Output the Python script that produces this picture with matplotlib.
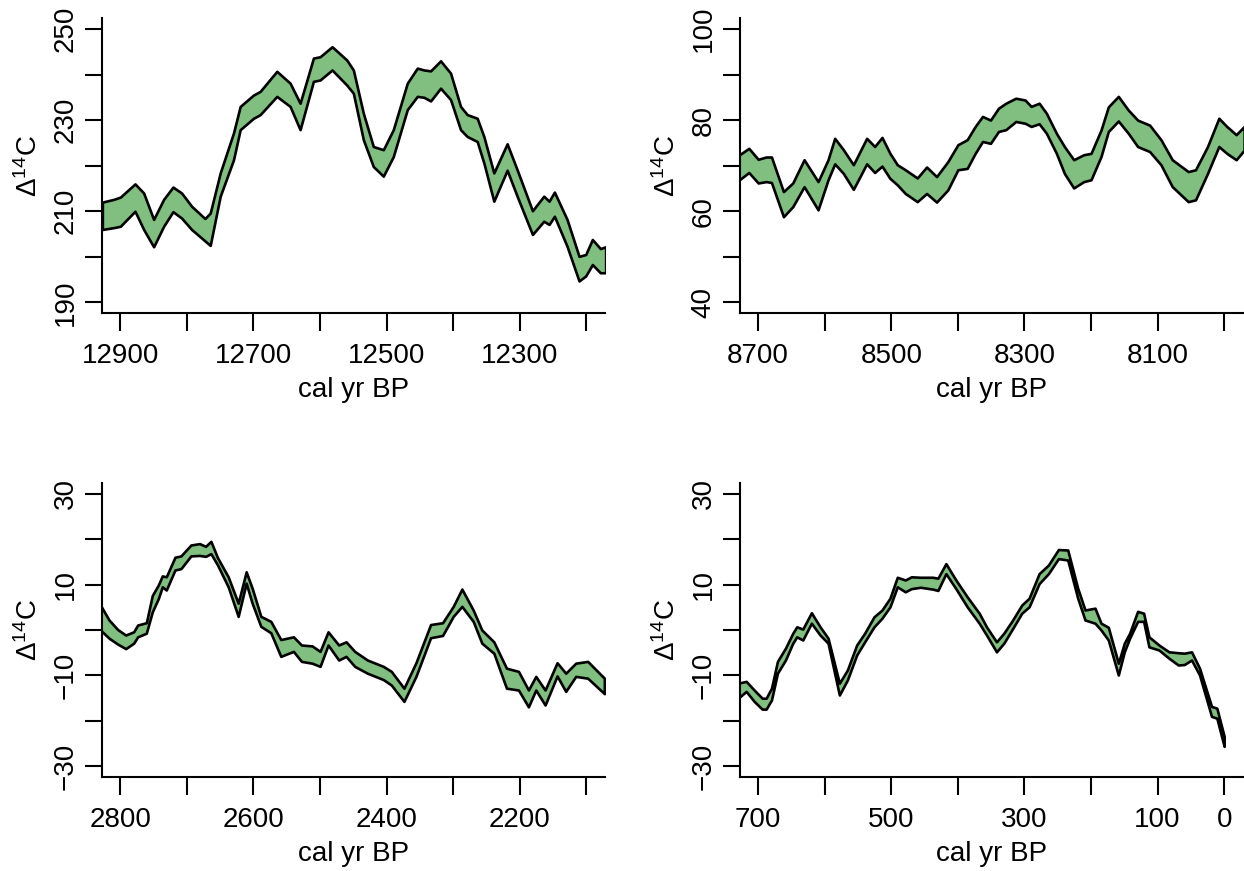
import matplotlib
matplotlib.use("Agg")
import matplotlib.pyplot as plt

plt.rcParams['font.family'] = ['Liberation Sans', 'DejaVu Sans']
plt.rcParams['font.size'] = 20

# dados (cal yr BP, limite superior e inferior do Delta14C)
p1_x = [12927, 12910, 12900, 12878, 12865, 12850, 12835, 12821, 12808, 12793,
        12773, 12765, 12750, 12730, 12720, 12700, 12690, 12665, 12645, 12630,
        12610, 12600, 12582, 12560, 12550, 12535, 12520, 12505, 12490, 12469,
        12454, 12444, 12434, 12419, 12404, 12389, 12379, 12364, 12354, 12339,
        12319, 12304, 12281, 12264, 12256, 12248, 12229, 12211, 12201, 12191,
        12179, 12171]
p1_upper = [212.0, 212.6, 213.1, 216.0, 214.0, 208.2, 212.6, 215.3, 214.0, 211.1,
            208.4, 209.6, 218.4, 227.2, 233.0, 235.5, 236.3, 240.7, 238.1, 233.7,
            243.6, 243.9, 246.1, 243.2, 241.0, 231.5, 224.2, 223.5, 227.9, 238.1,
            241.4, 241.0, 240.8, 243.0, 240.3, 233.0, 231.2, 230.4, 226.4, 218.4,
            224.8, 219.1, 210.1, 213.3, 212.2, 214.2, 208.2, 200.1, 200.5, 203.8,
            201.8, 202.2]
p1_lower = [206.0, 206.4, 206.7, 210.0, 206.0, 202.2, 206.7, 209.9, 208.5, 206.0,
            203.5, 202.5, 213.3, 221.3, 227.9, 230.4, 231.2, 235.2, 233.0, 227.9,
            238.5, 238.8, 241.0, 237.7, 235.9, 225.7, 219.8, 217.7, 222.0, 232.3,
            235.2, 235.0, 234.2, 237.0, 234.5, 227.9, 226.4, 225.3, 220.6, 212.2,
            219.0, 213.3, 204.9, 207.8, 207.1, 208.9, 202.3, 194.7, 195.8, 198.3,
            196.5, 196.5]

p2_x = [8730, 8714, 8700, 8688, 8680, 8662, 8648, 8631, 8610, 8595,
        8585, 8572, 8557, 8537, 8525, 8514, 8502, 8491, 8479, 8461,
        8447, 8432, 8415, 8400, 8386, 8374, 8363, 8351, 8339, 8328,
        8313, 8299, 8290, 8278, 8267, 8252, 8240, 8226, 8211, 8200,
        8185, 8174, 8159, 8144, 8130, 8112, 8095, 8078, 8054, 8043,
        8025, 8008, 7996, 7982, 7970]
p2_upper = [72.2, 73.8, 71.4, 71.9, 71.9, 64.3, 66.2, 71.3, 66.5, 71.3,
            76.0, 73.5, 70.2, 76.0, 74.2, 76.2, 72.7, 70.2, 69.1, 67.3,
            69.7, 67.6, 70.9, 74.6, 75.7, 78.6, 80.8, 80.0, 82.6, 83.7,
            84.8, 84.4, 83.0, 83.7, 81.5, 77.1, 74.2, 71.3, 72.4, 72.7,
            77.8, 82.9, 85.2, 82.2, 80.0, 78.9, 75.7, 71.3, 68.7, 69.1,
            74.2, 80.4, 78.6, 76.8, 78.6]
p2_lower = [66.7, 68.5, 66.2, 66.5, 66.3, 58.8, 61.0, 65.4, 60.3, 66.9,
            70.4, 68.3, 64.8, 70.4, 68.5, 69.9, 67.2, 65.8, 63.9, 62.1,
            63.9, 62.0, 64.7, 69.1, 69.4, 72.7, 75.3, 74.9, 77.5, 77.9,
            79.7, 79.3, 78.6, 79.2, 77.1, 72.7, 68.3, 65.1, 66.5, 66.9,
            72.0, 77.5, 79.8, 77.1, 74.2, 73.1, 70.2, 65.4, 62.1, 62.5,
            68.3, 74.2, 72.7, 71.3, 73.4]

p3_x = [2830, 2817, 2804, 2792, 2780, 2774, 2761, 2752, 2743, 2737,
        2731, 2718, 2709, 2694, 2681, 2672, 2664, 2654, 2638, 2623,
        2611, 2602, 2589, 2574, 2559, 2540, 2528, 2512, 2500, 2488,
        2472, 2461, 2448, 2429, 2405, 2393, 2374, 2356, 2334, 2316,
        2300, 2287, 2270, 2257, 2239, 2220, 2202, 2187, 2176, 2162,
        2144, 2131, 2116, 2098, 2073]
p3_upper = [5.5, 2.2, 0.1, -1.1, -0.4, 1.1, 1.6, 7.6, 9.9, 11.9,
            11.7, 16.0, 16.3, 18.7, 19.0, 18.4, 19.5, 15.9, 11.7, 5.9,
            12.8, 9.2, 3.0, 1.9, -2.1, -1.5, -3.3, -3.5, -4.7, -0.4,
            -3.3, -2.6, -4.7, -6.6, -8.0, -9.1, -12.8, -7.2, 1.2, 1.6,
            5.2, 9.0, 4.4, 0.0, -2.6, -8.4, -9.1, -13.2, -10.2, -13.2,
            -7.2, -9.5, -7.3, -6.9, -10.6]
p3_lower = [0.0, -1.8, -3.1, -4.1, -2.9, -1.5, -0.7, 4.0, 6.9, 9.5,
            8.8, 13.2, 13.5, 16.3, 16.4, 16.2, 16.8, 14.3, 9.5, 3.0,
            10.3, 5.9, 0.8, -0.6, -5.8, -4.7, -6.9, -7.3, -8.0, -3.3,
            -6.6, -5.8, -8.0, -9.5, -10.9, -12.1, -15.7, -10.2, -1.7, -1.2,
            3.0, 5.2, 1.9, -2.9, -5.1, -12.8, -13.2, -16.9, -13.2, -16.5,
            -10.1, -13.5, -10.2, -10.6, -14.0]

p4_x = [730, 718, 706, 694, 688, 680, 671, 659, 648, 642,
        633, 620, 607, 595, 578, 566, 552, 540, 526, 514,
        502, 491, 479, 470, 456, 438, 430, 418, 403, 386,
        368, 357, 342, 331, 319, 304, 293, 278, 264, 249,
        235, 220, 209, 194, 185, 174, 159, 150, 142, 130,
        121, 113, 98, 83, 69, 60, 49, 37, 19, 11, 0]
p4_upper = [-11.7, -11.3, -13.2, -15.0, -15.0, -12.8, -6.9, -4.0, -0.7, 0.7,
            0.2, 3.8, 0.7, -1.8, -11.7, -8.8, -3.3, -0.7, 2.9, 4.4,
            7.0, 11.6, 11.0, 11.7, 11.6, 11.6, 11.4, 14.6, 11.0, 7.3,
            3.7, 0.7, -2.6, -0.7, 1.9, 5.5, 7.0, 12.4, 14.3, 17.7,
            17.6, 9.2, 4.4, 4.8, 1.5, 0.6, -7.3, -2.9, -0.7, 4.1,
            3.7, -1.5, -3.3, -4.8, -5.0, -5.1, -4.8, -8.4, -16.8, -17.2, -23.4]
p4_lower = [-15.0, -13.5, -15.7, -17.4, -17.4, -15.4, -9.5, -6.6, -2.9, -1.5,
            -2.2, 1.5, -1.1, -2.9, -14.3, -11.0, -5.5, -2.6, 0.7, 2.6,
            5.1, 9.5, 8.4, 9.1, 9.4, 9.0, 8.7, 12.4, 9.1, 5.1,
            1.5, -1.1, -4.8, -2.9, 0.0, 3.7, 5.1, 10.2, 12.4, 15.7,
            15.4, 7.0, 2.2, 1.5, 0.0, -2.2, -9.9, -4.8, -1.8, 1.9,
            1.9, -3.7, -4.4, -6.2, -7.7, -7.6, -6.6, -9.9, -19.0, -19.4, -25.6]

# eixos: (inicio, fim) em anos e marcas com rotulo
p1_xrange, p1_xlabels = (12900, 12200), [12900, 12700, 12500, 12300]
p2_xrange, p2_xlabels = (8700, 8000), [8700, 8500, 8300, 8100]
p3_xrange, p3_xlabels = (2800, 2100), [2800, 2600, 2400, 2200]
p4_xrange, p4_xlabels = (700, 0), [700, 500, 300, 100, 0]
p1_yrange, p1_ylabels = (190, 250), [190, 210, 230, 250]
p2_yrange, p2_ylabels = (40, 100), [40, 60, 80, 100]
p3_yrange, p3_ylabels = (-30, 30), [-30, -10, 10, 30]
p4_yrange, p4_ylabels = (-30, 30), [-30, -10, 10, 30]

fill_color = '#80BF80'

fig = plt.figure(figsize=(12.44, 8.71), dpi=100)

W, H = 1244, 871
positions = [
    (101.7, 18.0, 503.3, 295.3),
    (739.5, 18.0, 503.3, 295.3),
    (101.7, 482.7, 503.3, 294.6),
    (739.5, 482.7, 503.3, 294.6),
]

panels = [
    (p1_x, p1_upper, p1_lower, p1_xrange, p1_xlabels, p1_yrange, p1_ylabels),
    (p2_x, p2_upper, p2_lower, p2_xrange, p2_xlabels, p2_yrange, p2_ylabels),
    (p3_x, p3_upper, p3_lower, p3_xrange, p3_xlabels, p3_yrange, p3_ylabels),
    (p4_x, p4_upper, p4_lower, p4_xrange, p4_xlabels, p4_yrange, p4_ylabels),
]


def fmt(v):
    return str(v).replace('-', '\u2212')


for (px, py, pw, ph), (x, up, lo, xr, xl, yr, yl) in zip(positions, panels):
    ax = fig.add_axes([px / W, 1 - (py + ph) / H, pw / W, ph / H])

    ax.fill_between(x, lo, up, facecolor=fill_color, edgecolor='black',
                    linewidth=1.9, joinstyle='round')

    # estilo R: 4% de folga nos limites
    dx = (xr[0] - xr[1]) * 0.04
    dy = (yr[1] - yr[0]) * 0.04
    ax.set_xlim(xr[0] + dx, xr[1] - dx)
    ax.set_ylim(yr[0] - dy, yr[1] + dy)

    xt = list(range(xr[0], xr[1] - 1, -100))
    ax.set_xticks(xt, [str(t) if t in xl else '' for t in xt])
    yt = list(range(yr[0], yr[1] + 1, 10))
    ax.set_yticks(yt, [fmt(t) if t in yl else '' for t in yt],
                  rotation=90, va='center')

    for s in ['top', 'right']:
        ax.spines[s].set_visible(False)
    for s in ['left', 'bottom']:
        ax.spines[s].set_linewidth(1.5)
    ax.tick_params(axis='both', length=12.6, width=1.5, labelsize=20)
    ax.tick_params(axis='x', pad=8.8)
    ax.tick_params(axis='y', pad=3.8)

    ax.set_xlabel('cal yr BP', fontsize=20)
    ax.xaxis.label.set_va('baseline')
    ax.xaxis.set_label_coords(0.5, -83.7 / ph)

    ax.set_ylabel(r'$\mathregular{\Delta^{14}C}$', fontsize=20)
    ax.yaxis.set_label_coords(-58.7 / pw, 0.5)

fig.savefig('out.png', dpi=100)
